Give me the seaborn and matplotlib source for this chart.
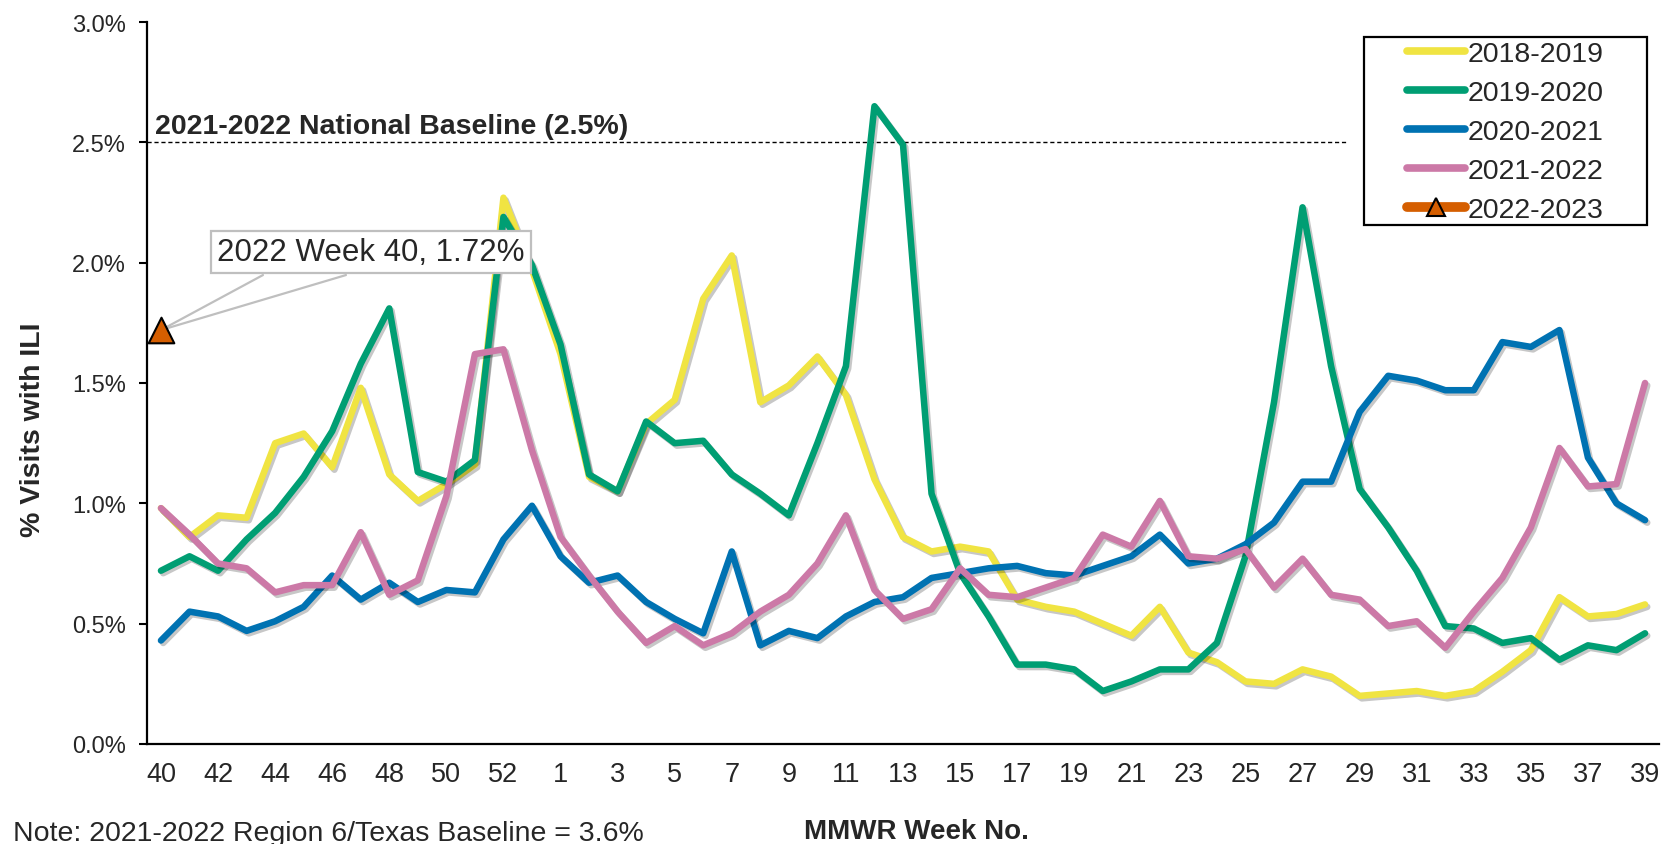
import numpy as np
import pandas as pd
import matplotlib
matplotlib.use("Agg")
import matplotlib.pyplot as plt
import matplotlib.patheffects as pe
from matplotlib.lines import Line2D
from matplotlib.patches import Rectangle
from matplotlib.ticker import FuncFormatter
import seaborn as sns

# ---------------- data ----------------
weeks = list(range(40, 54)) + list(range(1, 40))

s2018_2019 = [0.98, 0.86, 0.95, 0.94, 1.25, 1.29, 1.15, 1.48, 1.12, 1.01, 1.08, 1.16, 2.27, 1.97,
              1.62, 1.11, 1.05, 1.33, 1.43, 1.85, 2.03, 1.42, 1.49, 1.61, 1.45, 1.10, 0.86, 0.80,
              0.82, 0.80, 0.60, 0.57, 0.55, 0.50, 0.45, 0.57, 0.38, 0.34, 0.26, 0.25, 0.31, 0.28,
              0.20, 0.21, 0.22, 0.20, 0.22, 0.30, 0.39, 0.61, 0.53, 0.54, 0.58]
s2019_2020 = [0.72, 0.78, 0.72, 0.85, 0.96, 1.11, 1.30, 1.58, 1.81, 1.13, 1.09, 1.18, 2.19, 1.99,
              1.66, 1.12, 1.05, 1.34, 1.25, 1.26, 1.12, 1.04, 0.95, 1.25, 1.57, 2.65, 2.49, 1.04,
              0.71, 0.53, 0.33, 0.33, 0.31, 0.22, 0.26, 0.31, 0.31, 0.42, 0.78, 1.42, 2.23, 1.57,
              1.06, 0.90, 0.72, 0.49, 0.48, 0.42, 0.44, 0.35, 0.41, 0.39, 0.46]
s2020_2021 = [0.43, 0.55, 0.53, 0.47, 0.51, 0.57, 0.70, 0.60, 0.67, 0.59, 0.64, 0.63, 0.85, 0.99,
              0.78, 0.67, 0.70, 0.59, 0.52, 0.46, 0.80, 0.41, 0.47, 0.44, 0.53, 0.59, 0.61, 0.69,
              0.71, 0.73, 0.74, 0.71, 0.70, 0.74, 0.78, 0.87, 0.75, 0.77, 0.83, 0.92, 1.09, 1.09,
              1.38, 1.53, 1.51, 1.47, 1.47, 1.67, 1.65, 1.72, 1.19, 1.00, 0.93]
s2021_2022 = [0.98, 0.87, 0.75, 0.73, 0.63, 0.66, 0.66, 0.88, 0.62, 0.68, 1.03, 1.62, 1.64, 1.22,
              0.86, 0.70, 0.55, 0.42, 0.49, 0.41, 0.46, 0.55, 0.62, 0.75, 0.95, 0.64, 0.52, 0.56,
              0.73, 0.62, 0.61, 0.65, 0.69, 0.87, 0.82, 1.01, 0.78, 0.77, 0.81, 0.65, 0.77, 0.62,
              0.60, 0.49, 0.51, 0.40, 0.55, 0.69, 0.90, 1.23, 1.07, 1.08, 1.50]
s2022_2023 = [1.72]

seasons = ["2018-2019", "2019-2020", "2020-2021", "2021-2022", "2022-2023"]
colors = ["#F0E442", "#009E73", "#0072B2", "#CC79A7", "#D55E00"]
national_baseline = 2.5
baseline_label = "2021-2022 National Baseline (2.5%)"
callout_label = "2022 Week 40, 1.72%"
note_text = "Note: 2021-2022 Region 6/Texas Baseline = 3.6%"
y_ticks = [0.0, 0.5, 1.0, 1.5, 2.0, 2.5, 3.0]

# ---------------- style ----------------
sns.set_style("white")
plt.rcParams["font.family"] = ["Liberation Sans", "DejaVu Sans"]

W, H = 1665, 845
fig = plt.figure(figsize=(W / 100, H / 100), dpi=100)
ax_l, ax_r, ax_t, ax_b = 146.7, 1659.3, 23.0, 745.0
ax = fig.add_axes([ax_l / W, (H - ax_b) / H, (ax_r - ax_l) / W, (ax_b - ax_t) / H])

pos = np.arange(len(weeks))
shadow = [pe.SimpleLineShadow(offset=(1.6, -1.8), shadow_color="black", alpha=0.22), pe.Normal()]

for name, vals, c in zip(seasons[:4], [s2018_2019, s2019_2020, s2020_2021, s2021_2022], colors[:4]):
    df = pd.DataFrame({"pos": pos, "val": vals})
    sns.lineplot(data=df, x="pos", y="val", color=c, lw=4.7, ax=ax, errorbar=None,
                 solid_joinstyle="round", solid_capstyle="round", path_effects=shadow)

# national baseline (dashed)
ax.hlines(national_baseline, -0.5, 41.6, colors="black", linestyles=(0, (3, 2)), lw=1.0, zorder=1)
ax.annotate(baseline_label, xy=(-0.5, national_baseline), xytext=(8, 9), textcoords="offset pixels",
            ha="left", va="baseline", fontsize=20.5, fontweight="bold")

# current season point with callout
pt = (pos[0], s2022_2023[0])
for dx in (102, 185):
    ax.annotate("", xy=pt, xytext=(dx, 55), textcoords="offset pixels",
                arrowprops=dict(arrowstyle="-", color="#BFBFBF", lw=1.6, shrinkA=0, shrinkB=0),
                zorder=4)
ax.annotate(callout_label, xy=pt, xytext=(210, 78), textcoords="offset pixels",
            ha="center", va="center", fontsize=22.5,
            bbox=dict(boxstyle="square,pad=0.2", fc="white", ec="#BFBFBF", lw=1.6),
            zorder=5)
sns.scatterplot(x=pos[:1], y=s2022_2023, marker="^", s=340, color=colors[4], edgecolor="black",
                linewidth=1.5, zorder=6, ax=ax, legend=False)

# axes
ax.set_xlim(-0.5, len(weeks) - 0.5)
ax.set_ylim(0, 3.0)
ax.set_xticks(pos[::2])
ax.set_xticklabels([str(w) for w in weeks[::2]])
ax.set_xticks(np.arange(-0.5, len(weeks), 1), minor=True)
ax.tick_params(axis="x", which="major", length=0, labelsize=19.5, pad=12)
ax.tick_params(axis="x", which="minor", direction="inout", length=13, width=1.5, color="black")
ax.set_yticks(y_ticks)
ax.yaxis.set_major_formatter(FuncFormatter(lambda v, p: f"{v:.1f}%"))
ax.tick_params(axis="y", direction="out", length=5.5, width=1.5, labelsize=17, pad=9.5, color="black", left=True)
for s in ["top", "right"]:
    ax.spines[s].set_visible(False)
for s in ["left", "bottom"]:
    ax.spines[s].set_color("black")
    ax.spines[s].set_linewidth(1.6)

ax.set_xlabel("MMWR Week No.", fontsize=20, fontweight="bold")
ax.xaxis.set_label_coords(0.509, -0.12)
ax.xaxis.label.set_va("center")
ax.set_ylabel("% Visits with ILI", fontsize=20.5, fontweight="bold")
ax.yaxis.set_label_coords(-0.075, 0.436)
ax.yaxis.label.set_va("center")

fig.text(13 / W, (H - 841) / H, note_text, ha="left", va="baseline", fontsize=20.5)

# legend
handles = [Line2D([], [], color=c, lw=5.5, solid_capstyle="round") for c in colors[:4]]
handles.append(Line2D([], [], color=colors[4], lw=7, solid_capstyle="round", marker="^",
                      markersize=13, markerfacecolor=colors[4], markeredgecolor="black", markeredgewidth=1.5))
leg = ax.legend(handles, seasons, loc="center left", bbox_to_anchor=(0.8332, 0.848), frameon=False,
                fontsize=20.5, handlelength=2.03, handletextpad=0.1, labelspacing=0.455,
                borderpad=0, borderaxespad=0)
ax.add_patch(Rectangle((0.8048, 0.7188), 0.9919 - 0.8048, 0.9792 - 0.7188, transform=ax.transAxes,
                       fill=False, ec="black", lw=1.6, clip_on=False, zorder=7))

fig.savefig("out.png", dpi=100)
